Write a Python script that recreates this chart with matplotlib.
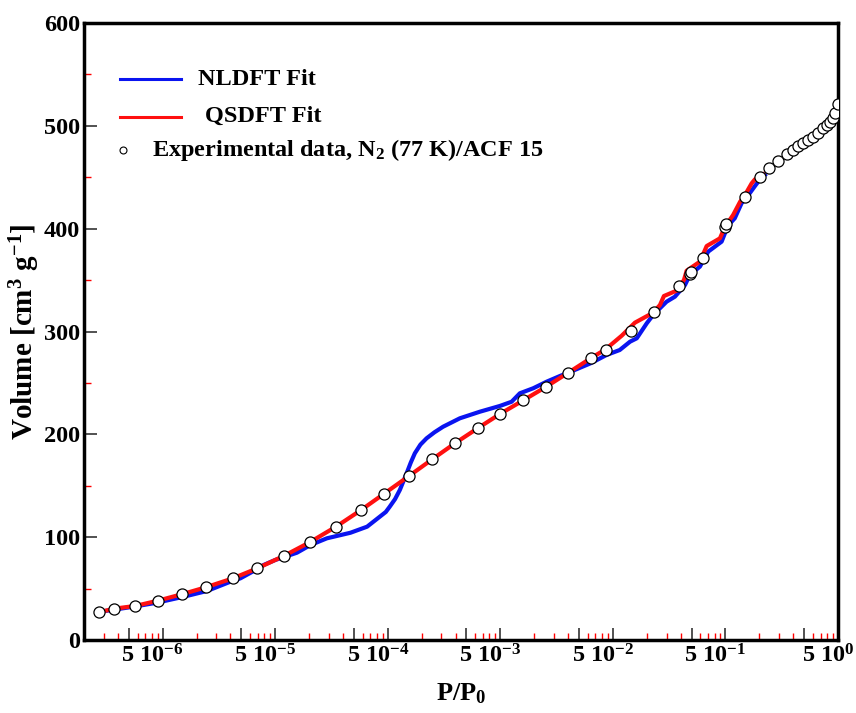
import numpy as np
import matplotlib
matplotlib.use("Agg")
import matplotlib.pyplot as plt
from matplotlib.lines import Line2D
from matplotlib.transforms import ScaledTranslation

plt.rcParams["font.family"] = ["Liberation Serif", "DejaVu Serif"]
plt.rcParams["font.weight"] = "bold"
plt.rcParams["axes.labelweight"] = "bold"
plt.rcParams["mathtext.fontset"] = "custom"
plt.rcParams["mathtext.rm"] = "Liberation Serif:bold"
plt.rcParams["mathtext.it"] = "Liberation Serif:bold"
plt.rcParams["mathtext.bf"] = "Liberation Serif:bold"
plt.rcParams["mathtext.default"] = "rm"

# experimental isotherm, N2 77 K on ACF 15
p_exp = [2.70e-7, 3.72e-7, 5.71e-7, 9.03e-7, 1.47e-6, 2.41e-6, 4.19e-6, 6.89e-6,
         1.19e-5, 2.03e-5, 3.48e-5, 5.81e-5, 9.31e-5, 1.54e-4, 2.48e-4, 3.94e-4,
         6.35e-4, 1.00e-3, 1.60e-3, 2.52e-3, 4.01e-3, 6.34e-3, 8.62e-3, 1.45e-2,
         2.30e-2, 3.90e-2, 4.83e-2, 4.93e-2, 6.27e-2, 9.90e-2, 0.102, 0.149,
         0.203, 0.245, 0.293, 0.350, 0.401, 0.444, 0.492, 0.544, 0.603, 0.668,
         0.731, 0.794, 0.849, 0.898, 0.940, 0.994]
v_exp = [26.9, 30.5, 33.1, 38.2, 44.4, 51.2, 59.9, 69.6,
         81.7, 95.1, 110.3, 126.5, 142.4, 159.4, 175.7, 191.2,
         206.2, 220.0, 233.1, 245.9, 259.9, 273.9, 282.3, 300.4,
         319.1, 344.1, 356.1, 357.7, 371.7, 401.9, 404.5, 430.8,
         449.9, 458.9, 465.7, 472.2, 476.4, 480.0, 482.9, 486.2, 489.4, 493.3,
         497.6, 500.8, 504.0, 507.9, 512.2, 521.0]

# NLDFT fit
p_nldft = [2.79e-7, 5.52e-7, 8.89e-7, 1.54e-6, 2.48e-6, 4.00e-6, 4.91e-6, 6.44e-6,
           7.91e-6, 1.00e-5, 1.56e-5, 2.06e-5, 2.88e-5, 4.66e-5, 6.55e-5, 8.49e-5,
           9.60e-5, 1.04e-4, 1.16e-4, 1.28e-4, 1.47e-4, 1.60e-4, 1.74e-4, 1.95e-4,
           2.21e-4, 2.60e-4, 3.10e-4, 4.37e-4, 6.58e-4,
           9.91e-4, 1.26e-3, 1.49e-3, 1.96e-3, 2.58e-3, 3.38e-3, 4.15e-3, 6.34e-3,
           8.79e-3, 1.15e-2, 1.42e-2, 1.63e-2, 2.00e-2, 2.28e-2, 3.00e-2, 3.56e-2,
           4.37e-2, 4.83e-2, 5.93e-2, 7.03e-2, 9.25e-2, 0.103, 0.110, 0.121,
           0.139, 0.160, 0.183, 0.203, 0.224]
v_nldft = [27.5, 32.4, 36.3, 42.1, 47.7, 56.7, 60.0, 67.1,
           73.0, 77.8, 84.9, 92.4, 98.9, 104.3, 110.2, 119.9,
           124.5, 129.6, 137.0, 145.9, 162.1, 172.5, 181.6, 190.0,
           196.1, 202.0, 207.4, 215.6, 222.0,
           227.6, 231.7, 239.9, 244.8, 251.2, 256.7, 260.6, 269.1,
           277.2, 282.0, 290.1, 293.4, 308.0, 316.1, 329.0, 333.9,
           345.2, 355.0, 363.1, 377.7, 387.4, 400.4, 405.2, 410.1,
           424.7, 432.7, 441.5, 448.0, 452.2]

# QSDFT fit
p_qsdft = [2.70e-7, 3.72e-7, 5.71e-7, 9.03e-7, 1.47e-6, 2.41e-6, 4.19e-6, 6.89e-6,
           1.19e-5, 2.03e-5, 3.48e-5, 5.81e-5, 9.31e-5, 1.54e-4, 2.48e-4, 3.94e-4,
           6.35e-4, 1.00e-3, 1.60e-3, 2.52e-3, 4.01e-3, 6.34e-3, 8.61e-3, 1.20e-2,
           1.57e-2, 2.28e-2, 2.62e-2, 2.84e-2, 3.68e-2, 4.28e-2, 4.52e-2, 5.93e-2,
           6.81e-2, 8.93e-2, 9.91e-2, 0.117, 0.135, 0.149, 0.171, 0.183, 0.217]
v_qsdft = [26.9, 30.5, 33.1, 38.2, 44.4, 51.2, 59.9, 69.6,
           81.7, 95.1, 110.3, 126.5, 142.4, 159.4, 175.7, 191.2,
           206.2, 220.0, 233.1, 245.9, 259.9, 273.9, 282.7, 296.0,
           308.6, 318.3, 325.8, 334.5, 339.7, 350.1, 359.1, 367.9,
           383.1, 390.6, 401.9, 413.3, 426.2, 432.7, 444.1, 448.0, 452.9]

decades = [1e-6, 1e-5, 1e-4, 1e-3, 1e-2, 1e-1, 1e0]
decade_labels = ["5 10$^{-6}$", "5 10$^{-5}$", "5 10$^{-4}$", "5 10$^{-3}$",
                 "5 10$^{-2}$", "5 10$^{-1}$", "5 10$^{0}$"]

fig = plt.figure(figsize=(8.56, 7.13), dpi=100)
ax = fig.add_axes([84 / 856, 1 - 640 / 713, 754 / 856, 617 / 713])

ax.plot(p_nldft, v_nldft, color="#0a14f0", lw=3, zorder=2)
ax.plot(p_qsdft, v_qsdft, color="#ff1010", lw=3, zorder=3)
ax.plot(p_exp, v_exp, "o", ms=8, mfc="white", mec="black", mew=0.9, zorder=4)

ax.set_xscale("log")
ax.set_xlim(2e-7, 1.0)
ax.set_ylim(0, 600)

fives = [5 * d for d in [1e-7, 1e-6, 1e-5, 1e-4, 1e-3, 1e-2, 1e-1]]
major = sorted(decades + fives)
labels = [decade_labels[decades.index(t)] if t in decades else "" for t in major]
ax.set_xticks(major, labels)
minor = [m * d for d in [1e-7, 1e-6, 1e-5, 1e-4, 1e-3, 1e-2, 1e-1]
         for m in (2, 3, 4, 6, 7, 8, 9)]
ax.set_xticks(minor, minor=True)
ax.set_yticks(np.arange(0, 601, 100))
ax.set_yticks(np.arange(50, 600, 100), minor=True)

ax.tick_params(axis="both", which="major", direction="in", length=9, width=1.2,
               color="#333333", labelsize=17.5, pad=3)
ax.tick_params(axis="both", which="minor", direction="in", length=5, width=1,
               color="red")
shift = ScaledTranslation(-0.1, 0, fig.dpi_scale_trans)
for lab in ax.get_xticklabels():
    lab.set_transform(lab.get_transform() + shift)

for s in ax.spines.values():
    s.set_linewidth(2.5)

ax.set_xlabel("P/P$_0$", fontsize=19, labelpad=10)
ax.set_ylabel("Volume [cm$^3$ g$^{-1}$]", fontsize=21, labelpad=1)

# hand-placed legend as in the original figure
ax.add_line(Line2D([0.048, 0.129], [0.909, 0.909], color="#0a14f0", lw=2.2,
                   transform=ax.transAxes))
ax.add_line(Line2D([0.048, 0.129], [0.848, 0.848], color="#ff1010", lw=2.2,
                   transform=ax.transAxes))
ax.add_line(Line2D([0.052], [0.794], marker="o", ms=5, mfc="white", mec="black",
                   mew=0.8, transform=ax.transAxes))
ax.text(0.151, 0.909, "NLDFT Fit", transform=ax.transAxes, fontsize=17.5,
        va="center", ha="left")
ax.text(0.160, 0.848, "QSDFT Fit", transform=ax.transAxes, fontsize=17.5,
        va="center", ha="left")
ax.text(0.090, 0.794, "Experimental data, N$_2$ (77 K)/ACF 15",
        transform=ax.transAxes, fontsize=17.5, va="center", ha="left")

fig.savefig("out.png", dpi=100)
